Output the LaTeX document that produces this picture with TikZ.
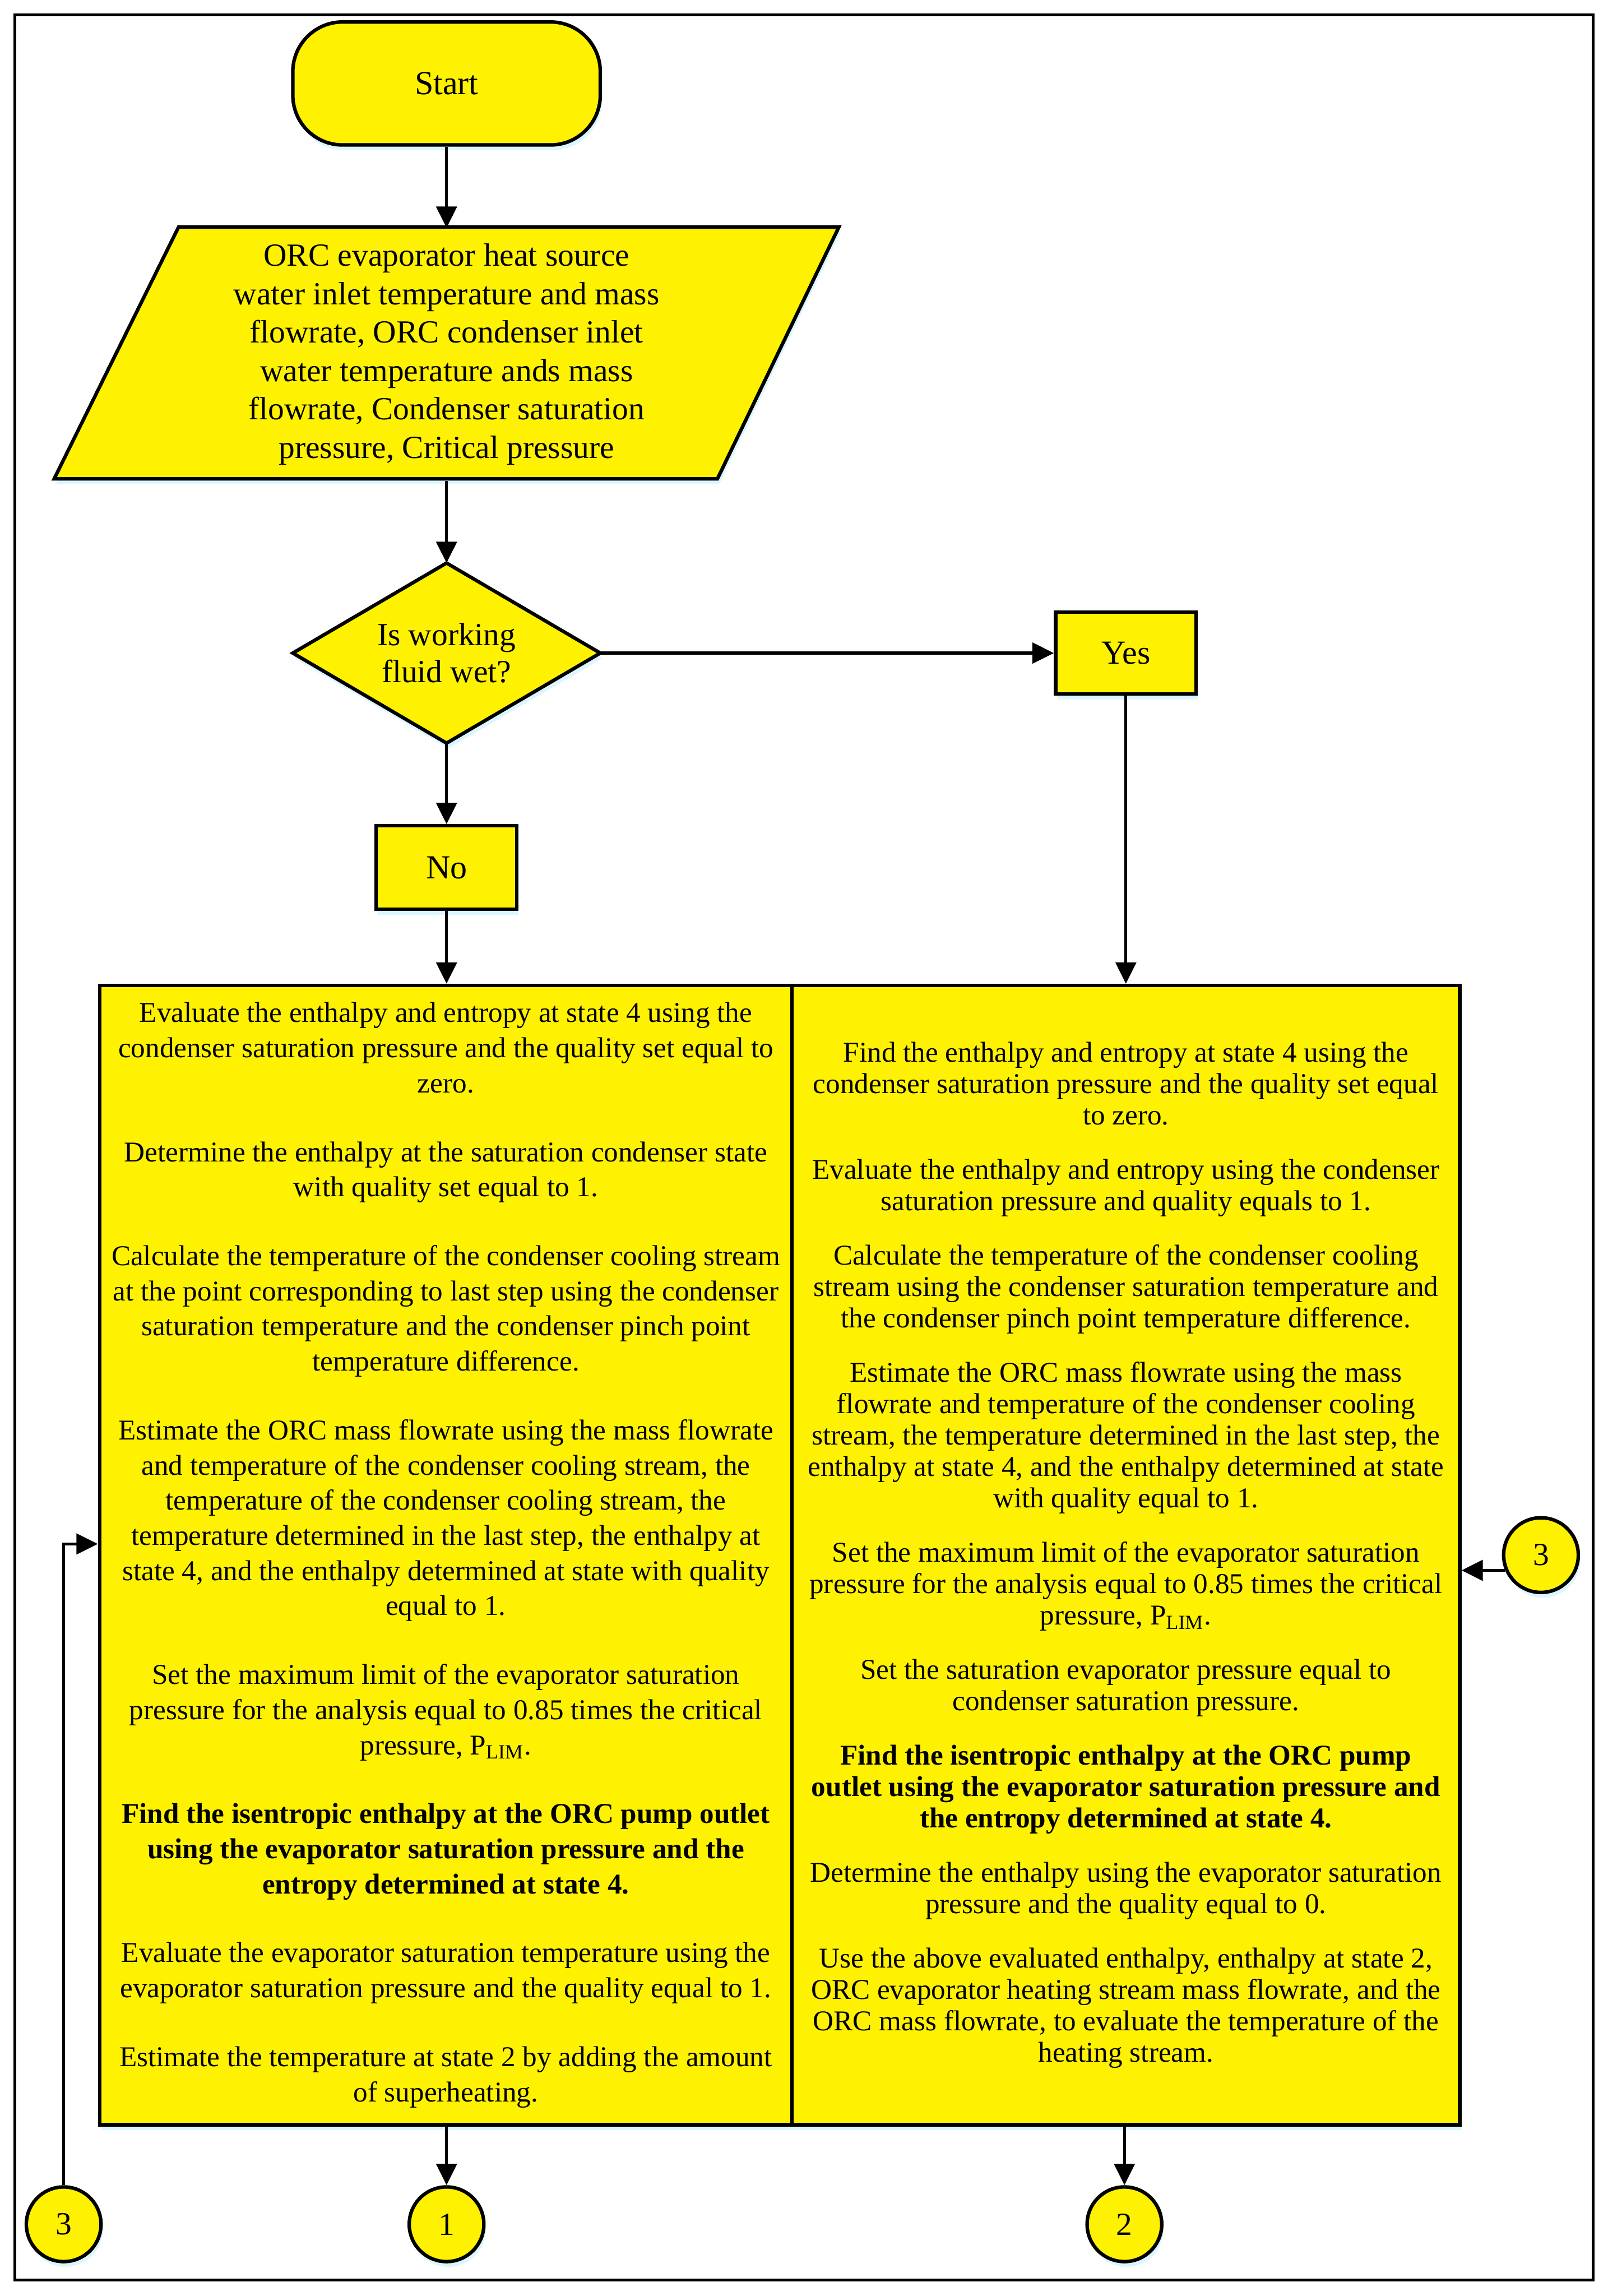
\documentclass[tikz,border=0pt]{standalone}
\usepackage{fontspec}
\setmainfont{Liberation Serif}
\usetikzlibrary{shapes.geometric,arrows.meta,shadows}
\begin{document}
\begin{tikzpicture}[x=0.5pt,y=-0.5pt,
  shp/.style={draw=black, line width=1.2pt, fill=yellow},
  shd/.style={drop shadow={shadow xshift=0.6pt, shadow yshift=-1.8pt, fill=blue!25!cyan!30, opacity=0.45}},
  arr/.style={-{Triangle[length=7.3pt,width=7pt]}, line width=1pt},
  bigtext/.style={font=\fontsize{9.8}{12}\selectfont, align=center, inner sep=1pt},
  rtext/.style={font=\fontsize{9.8}{10.75}\selectfont, align=center, inner sep=1pt},
  conn/.style={shp, shd, circle, minimum size=25.5pt, inner sep=0pt, font=\fontsize{11}{13}\selectfont}
]
\useasboundingbox (0,0) rectangle (1098,1568);
\draw[line width=1pt] (10,10) rectangle (1088,1557);

% Start
\node[shp, shd, rounded corners=17pt, minimum width=105pt, minimum height=42pt,
  font=\fontsize{11.5}{13}\selectfont] (start) at (305,57) {Start};

% Input parallelogram
\draw[shp, shd] (122,155) -- (573,155) -- (490,327) -- (37,327) -- cycle;
\node[minimum width=200pt, minimum height=86pt, inner sep=0pt, align=center,
  font=\fontsize{11}{13.1}\selectfont] (inp) at (305,242)
  {ORC evaporator heat source\\
   water inlet temperature and mass\\
   flowrate, ORC condenser inlet\\
   water temperature ands mass\\
   flowrate, Condenser saturation\\
   pressure, Critical pressure};

% Decision
\node[shp, shd, diamond, aspect=1.707, minimum width=105pt, minimum height=61.5pt, inner sep=0pt,
  outer sep=0pt, align=center, font=\fontsize{11}{12.5}\selectfont] (dec) at (305,446)
  {Is working\\fluid wet?};

\node[shp, shd, minimum width=48pt, minimum height=28pt, font=\fontsize{11.5}{13}\selectfont] (yes) at (769,446) {Yes};
\node[shp, shd, minimum width=48pt, minimum height=28.5pt, font=\fontsize{11.5}{13}\selectfont] (no) at (305,592.5) {No};

% Big boxes
\node[shp, shd, bigtext, minimum width=236.5pt, minimum height=389pt] (lbox) at (304.5,1062)
  {Evaluate the enthalpy and entropy at state 4 using the\\
   condenser saturation pressure and the quality set equal to\\
   zero.\\[11.5pt]
   Determine the enthalpy at the saturation condenser state\\
   with quality set equal to 1.\\[11.5pt]
   Calculate the temperature of the condenser cooling stream\\
   at the point corresponding to last step using the condenser\\
   saturation temperature and the condenser pinch point\\
   temperature difference.\\[11.5pt]
   Estimate the ORC mass flowrate using the mass flowrate\\
   and temperature of the condenser cooling stream, the\\
   temperature of the condenser cooling stream, the\\
   temperature determined in the last step, the enthalpy at\\
   state 4, and the enthalpy determined at state with quality\\
   equal to 1.\\[11.5pt]
   Set the maximum limit of the evaporator saturation\\
   pressure for the analysis equal to 0.85 times the critical\\
   pressure, P\textsubscript{LIM}.\\[11.5pt]
   \textbf{Find the isentropic enthalpy at the ORC pump outlet}\\
   \textbf{using the evaporator saturation pressure and the}\\
   \textbf{entropy determined at state 4.}\\[11.5pt]
   Evaluate the evaporator saturation temperature using the\\
   evaporator saturation pressure and the quality equal to 1.\\[11.5pt]
   Estimate the temperature at state 2 by adding the amount\\
   of superheating.};

\node[shp, shd, rtext, minimum width=228pt, minimum height=389pt] (rbox) at (769,1062)
  {Find the enthalpy and entropy at state 4 using the\\
   condenser saturation pressure and the quality set equal\\
   to zero.\\[7.75pt]
   Evaluate the enthalpy and entropy using the condenser\\
   saturation pressure and quality equals to 1.\\[7.75pt]
   Calculate the temperature of the condenser cooling\\
   stream using the condenser saturation temperature and\\
   the condenser pinch point temperature difference.\\[7.75pt]
   Estimate the ORC mass flowrate using the mass\\
   flowrate and temperature of the condenser cooling\\
   stream, the temperature determined in the last step, the\\
   enthalpy at state 4, and the enthalpy determined at state\\
   with quality equal to 1.\\[7.75pt]
   Set the maximum limit of the evaporator saturation\\
   pressure for the analysis equal to 0.85 times the critical\\
   pressure, P\textsubscript{LIM}.\\[7.75pt]
   Set the saturation evaporator pressure equal to\\
   condenser saturation pressure.\\[7.75pt]
   \textbf{Find the isentropic enthalpy at the ORC pump}\\
   \textbf{outlet using the evaporator saturation pressure and}\\
   \textbf{the entropy determined at state 4.}\\[7.75pt]
   Determine the enthalpy using the evaporator saturation\\
   pressure and the quality equal to 0.\\[7.75pt]
   Use the above evaluated enthalpy, enthalpy at state 2,\\
   ORC evaporator heating stream mass flowrate, and the\\
   ORC mass flowrate, to evaluate the temperature of the\\
   heating stream.};

% Connectors (off-page)
\node[conn] (c1) at (305,1519) {1};
\node[conn] (c2) at (768,1519) {2};
\node[conn] (c3l) at (43.5,1519) {3};
\node[conn] (c3r) at (1052.5,1062) {3};

% Arrows
\draw[arr] (start.south) -- (inp.north);
\draw[arr] (inp.south) -- (dec.north);
\draw[arr] (dec.east) -- (yes.west);
\draw[arr] (dec.south) -- (no.north);
\draw[arr] (no.south) -- (no.south |- lbox.north);
\draw[arr] (yes.south) -- (yes.south |- rbox.north);
\draw[arr] (lbox.south -| c1.north) -- (c1.north);
\draw[arr] (rbox.south -| c2.north) -- (c2.north);
\draw[arr] (c3l.north) |- ([yshift=3.8pt]lbox.west);
\draw[arr] (c3r.203) -- (c3r.203 -| rbox.east);
\end{tikzpicture}
\end{document}
